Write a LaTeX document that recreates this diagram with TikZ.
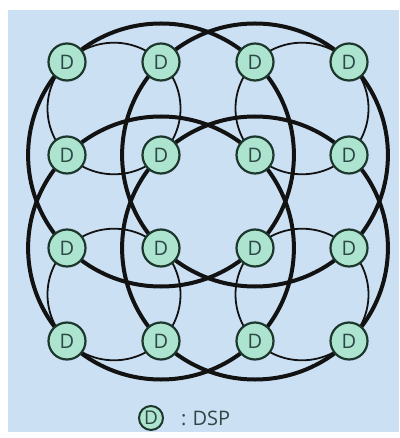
\documentclass[tikz,border=0pt]{standalone}
\usepackage{fontspec}
\setmainfont{Open Sans}
\usetikzlibrary{calc}
\begin{document}
\begin{tikzpicture}[x=1pt,y=-1pt,
  dspnode/.style={circle,draw=nodeline,line width=2.2pt,fill=nodefill,minimum size=37pt,inner sep=0pt,
    text=dtext,font=\fontsize{20}{20}\selectfont},
  legnode/.style={circle,draw=nodeline,line width=2pt,fill=nodefill,minimum size=24pt,inner sep=0pt,
    text=dtext,font=\fontsize{19}{19}\selectfont},
  thinring/.style={draw=ringcol,line width=1.8pt},
  thickring/.style={draw=ringcol,line width=4pt}]
\definecolor{bgblue}{RGB}{204,224,244}
\definecolor{nodefill}{RGB}{172,228,208}
\definecolor{nodeline}{RGB}{30,55,45}
\definecolor{dtext}{RGB}{45,70,70}
\definecolor{ringcol}{RGB}{18,18,18}
\useasboundingbox (0,0) rectangle (399,438);
\fill[white] (0,0) rectangle (399,438);
\fill[bgblue] (8,10) rectangle (399,432);
% grid coordinates
\foreach \i/\x in {1/67,2/161,3/255,4/349}{
  \foreach \j/\y in {1/62,2/155,3/248,4/341}{
    \coordinate (p\j\i) at (\x,\y);
  }
}
% quadrant centres
\coordinate (qa) at ($(p11)!0.5!(p22)$);
\coordinate (qb) at ($(p13)!0.5!(p24)$);
\coordinate (qc) at ($(p31)!0.5!(p42)$);
\coordinate (qd) at ($(p33)!0.5!(p44)$);
% thin rings
\foreach \q in {qa,qb,qc,qd}{
  \draw[thinring] (\q) ellipse [x radius=66.5, y radius=65.8];
}
% thick rings
\foreach \c in {p22,p23,p32,p33}{
  \draw[thickring] (\c) ellipse [x radius=132.9, y radius=131.5];
}
% nodes
\foreach \j in {1,2,3,4}{
  \foreach \i in {1,2,3,4}{
    \node[dspnode] (n\j\i) at (p\j\i) {D};
  }
}
% legend
\node[legnode] (leg) at (151,418) {D};
\node[anchor=west,inner sep=0pt,text=dtext,font=\fontsize{20}{20}\selectfont] (legtxt) at ([xshift=30pt]leg.center) {:\hspace{6pt}DSP};
\end{tikzpicture}
\end{document}
